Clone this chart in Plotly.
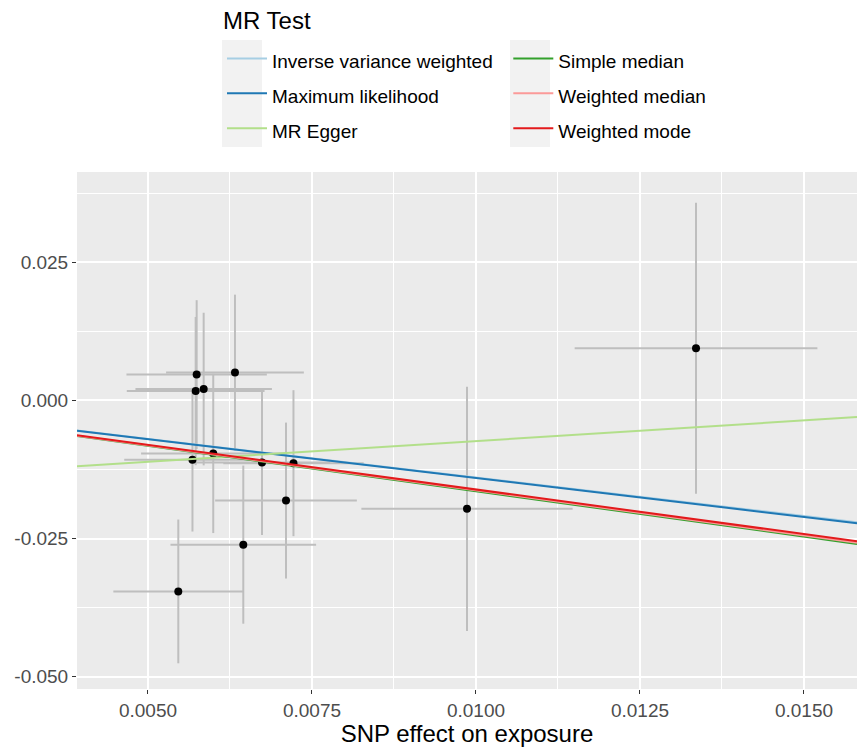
import plotly.graph_objects as go

# ---------------- data ----------------
snp_exposure = [0.013354, 0.009863, 0.007104, 0.006453, 0.005462,
                0.005742, 0.006326, 0.005727, 0.005849,
                0.005678, 0.005995, 0.006738, 0.007218]
snp_exposure_se = [0.00185, 0.00161, 0.00108, 0.00111, 0.00099,
                   0.00107, 0.00105, 0.00105, 0.00104,
                   0.00104, 0.00110, 0.00104, 0.00107]
snp_outcome = [0.00942, -0.01962, -0.01812, -0.02609, -0.03455,
               0.004656, 0.005018, 0.001685, 0.002047,
               -0.01072, -0.00960, -0.01123, -0.01136]
snp_outcome_se = [0.0263, 0.0221, 0.0141, 0.0143, 0.0130,
                  0.01346, 0.0141, 0.0134, 0.0138,
                  0.0130, 0.0144, 0.0131, 0.0132]

methods = ["Inverse variance weighted", "Maximum likelihood", "MR Egger",
           "Simple median", "Weighted median", "Weighted mode"]
method_slopes = [-1.395, -1.405, 0.747, -1.643, -1.628, -1.612]
method_intercepts = [0.0, 0.0, -0.01483, 0.0, 0.0, 0.0]
method_colors = ["#A6CEE3", "#1F78B4", "#B2DF8A", "#33A02C", "#FB9A99", "#E31A1C"]
method_groups = ["col1", "col1", "col1", "col2", "col2", "col2"]

x_tick_vals = [0.005, 0.0075, 0.01, 0.0125, 0.015]
x_tick_text = ["0.0050", "0.0075", "0.0100", "0.0125", "0.0150"]
x_minor_vals = [0.00375, 0.00625, 0.00875, 0.01125, 0.01375]
y_tick_vals = [-0.05, -0.025, 0.0, 0.025]
y_tick_text = ["-0.050", "-0.025", "0.000", "0.025"]
y_minor_vals = [-0.0375, -0.0125, 0.0125, 0.0375]
x_range = [0.003918, 0.015808]
y_range = [-0.0522, 0.0413]
legend_title = "MR Test"

FONT = "Liberation Sans, Arial, sans-serif"
W, H = 857, 747
ML, MR, MT, MB = 77, 0, 172, 58
PW, PH = W - ML - MR, H - MT - MB


def px_to_paper(px, py):
    return (px - ML) / PW, (H - MB - py) / PH


fig = go.Figure()

fig.add_trace(go.Scatter(
    x=snp_exposure, y=snp_outcome, mode="markers",
    marker=dict(color="black", size=8),
    error_x=dict(type="data", array=snp_exposure_se, color="#BEBEBE", thickness=2, width=0),
    error_y=dict(type="data", array=snp_outcome_se, color="#BEBEBE", thickness=2, width=0),
    showlegend=False, hoverinfo="skip"))

widest = max(methods[:3], key=len)
for name, b, a, col, grp in zip(methods, method_slopes, method_intercepts, method_colors, method_groups):
    label = name + ("&nbsp;&nbsp;" if name == widest else "")
    fig.add_trace(go.Scatter(
        x=x_range, y=[a + b * x for x in x_range], mode="lines",
        line=dict(color=col, width=2),
        name='<span style="font-size:19px">' + label + '</span>',
        legendgroup=grp))

axis_common = dict(
    showline=False, zeroline=False, showgrid=True,
    gridcolor="white", gridwidth=1.6,
    ticks="outside", ticklen=4, tickcolor="#333333", tickwidth=1,
    tickfont=dict(family=FONT, size=19, color="#4D4D4D"),
)

fig.update_xaxes(range=x_range, tickmode="array", tickvals=x_tick_vals, ticktext=x_tick_text,
                 minor=dict(tickvals=x_minor_vals, showgrid=True, gridcolor="white", gridwidth=0.8),
                 title=dict(text="SNP effect on exposure", font=dict(family=FONT, size=24, color="black"),
                            standoff=3),
                 **axis_common)
fig.update_yaxes(range=y_range, tickmode="array", tickvals=y_tick_vals, ticktext=y_tick_text,
                 minor=dict(tickvals=y_minor_vals, showgrid=True, gridcolor="white", gridwidth=0.8),
                 **axis_common)

# legend key backgrounds (ggplot-style grey key boxes)
shapes = []
for left, right in [(222, 262), (510, 550)]:
    x0, y0 = px_to_paper(left, 147)
    x1, y1 = px_to_paper(right, 40)
    shapes.append(dict(type="rect", xref="paper", yref="paper", x0=x0, x1=x1, y0=y0, y1=y1,
                       fillcolor="#F2F2F2", line=dict(width=0), layer="below"))

tx, ty = px_to_paper(221, 20)
annotations = [dict(text=legend_title, xref="paper", yref="paper", x=tx, y=ty,
                    xanchor="left", yanchor="middle", showarrow=False,
                    font=dict(family=FONT, size=24, color="black"))]

fig.update_layout(
    width=W, height=H,
    margin=dict(l=ML, r=MR, t=MT, b=MB),
    plot_bgcolor="#EBEBEB", paper_bgcolor="white",
    font=dict(family=FONT, color="black"),
    shapes=shapes, annotations=annotations,
    legend=dict(
        orientation="h", xref="container", yref="container",
        x=222 / W, xanchor="left", y=1 - 36 / H, yanchor="top",
        font=dict(family=FONT, size=24.5, color="black"),
        itemwidth=40, bgcolor="rgba(0,0,0,0)",
        traceorder="grouped",
    ),
    showlegend=True,
)

fig.write_html("out.html", config={"displayModeBar": False},
               post_script="document.body.style.margin='0';document.body.style.overflow='hidden';")
